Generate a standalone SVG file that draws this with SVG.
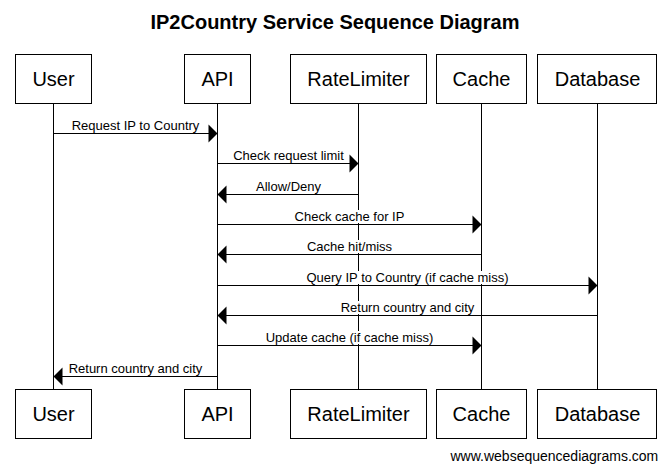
<svg xmlns="http://www.w3.org/2000/svg" width="671" height="472" viewBox="0 0 671 472">
<style>
.box{fill:#fff;stroke:#000;stroke-width:1}
.life{stroke:#000;stroke-width:1}
.msg{stroke:#000;stroke-width:1;fill:none}
.head{fill:#000}
.bg{fill:#fff}
.nl{font-family:"Liberation Sans",Arial,sans-serif;font-size:20px;text-anchor:middle;fill:#000}
.ml{font-family:"Liberation Sans",Arial,sans-serif;font-size:13px;text-anchor:middle;fill:#000}
.title{font-family:"Liberation Sans",Arial,sans-serif;font-size:20px;font-weight:bold;text-anchor:middle;fill:#000}
.foot{font-family:"Liberation Sans",Arial,sans-serif;font-size:14px;fill:#000}
</style>
<rect width="671" height="472" fill="#fff"/>
<text class="title" x="335" y="29">IP2Country Service Sequence Diagram</text>
<g id="lifelines">
<line class="life" x1="53.5" y1="103" x2="53.5" y2="389"/>
<line class="life" x1="217.5" y1="103" x2="217.5" y2="389"/>
<line class="life" x1="358.5" y1="103" x2="358.5" y2="389"/>
<line class="life" x1="481.5" y1="103" x2="481.5" y2="389"/>
<line class="life" x1="597.5" y1="103" x2="597.5" y2="389"/>
</g>
<g id="node-user">
<rect class="box" x="15.5" y="54.5" width="76" height="49"/>
<text class="nl" x="53.5" y="86">User</text>
<rect class="box" x="15.5" y="389.5" width="76" height="49"/>
<text class="nl" x="53.5" y="421">User</text>
</g>
<g id="node-api">
<rect class="box" x="184.5" y="54.5" width="66" height="49"/>
<text class="nl" x="217.5" y="86">API</text>
<rect class="box" x="184.5" y="389.5" width="66" height="49"/>
<text class="nl" x="217.5" y="421">API</text>
</g>
<g id="node-ratelimiter">
<rect class="box" x="290.5" y="54.5" width="136" height="49"/>
<text class="nl" x="358.5" y="86">RateLimiter</text>
<rect class="box" x="290.5" y="389.5" width="136" height="49"/>
<text class="nl" x="358.5" y="421">RateLimiter</text>
</g>
<g id="node-cache">
<rect class="box" x="436.5" y="54.5" width="90" height="49"/>
<text class="nl" x="481.5" y="86">Cache</text>
<rect class="box" x="436.5" y="389.5" width="90" height="49"/>
<text class="nl" x="481.5" y="421">Cache</text>
</g>
<g id="node-database">
<rect class="box" x="537.5" y="54.5" width="119" height="49"/>
<text class="nl" x="597.5" y="86">Database</text>
<rect class="box" x="537.5" y="389.5" width="119" height="49"/>
<text class="nl" x="597.5" y="421">Database</text>
</g>
<g id="connectors">
<line class="msg" x1="53.5" y1="133.5" x2="209" y2="133.5"/>
<polygon class="head" points="217.5,133.5 208.5,124.5 208.5,142.5"/>
<rect class="bg" x="69" y="119" width="132" height="13"/>
<text class="ml" x="135.5" y="130">Request IP to Country</text>

<line class="msg" x1="217.5" y1="163.5" x2="350" y2="163.5"/>
<polygon class="head" points="358.5,163.5 349.5,154.5 349.5,172.5"/>
<rect class="bg" x="231" y="149" width="115" height="13"/>
<text class="ml" x="288.5" y="160">Check request limit</text>

<line class="msg" x1="226" y1="194.5" x2="358.5" y2="194.5"/>
<polygon class="head" points="217.5,194.5 226.5,185.5 226.5,203.5"/>
<rect class="bg" x="254" y="180" width="69" height="13"/>
<text class="ml" x="288.5" y="191">Allow/Deny</text>

<line class="msg" x1="217.5" y1="224.5" x2="473" y2="224.5"/>
<polygon class="head" points="481.5,224.5 472.5,215.5 472.5,233.5"/>
<rect class="bg" x="292" y="210" width="114" height="13"/>
<text class="ml" x="349.5" y="221">Check cache for IP</text>

<line class="msg" x1="226" y1="254.5" x2="481.5" y2="254.5"/>
<polygon class="head" points="217.5,254.5 226.5,245.5 226.5,263.5"/>
<rect class="bg" x="305" y="240" width="89" height="13"/>
<text class="ml" x="349.5" y="251">Cache hit/miss</text>

<line class="msg" x1="217.5" y1="285.5" x2="589" y2="285.5"/>
<polygon class="head" points="597.5,285.5 588.5,276.5 588.5,294.5"/>
<rect class="bg" x="303" y="271" width="210" height="13"/>
<text class="ml" x="407.5" y="282">Query IP to Country (if cache miss)</text>

<line class="msg" x1="226" y1="315.5" x2="597.5" y2="315.5"/>
<polygon class="head" points="217.5,315.5 226.5,306.5 226.5,324.5"/>
<rect class="bg" x="338" y="301" width="139" height="13"/>
<text class="ml" x="407.5" y="312">Return country and city</text>

<line class="msg" x1="217.5" y1="345.5" x2="473" y2="345.5"/>
<polygon class="head" points="481.5,345.5 472.5,336.5 472.5,354.5"/>
<rect class="bg" x="263" y="331" width="174" height="13"/>
<text class="ml" x="349.5" y="342">Update cache (if cache miss)</text>

<line class="msg" x1="62" y1="376.5" x2="217.5" y2="376.5"/>
<polygon class="head" points="53.5,376.5 62.5,367.5 62.5,385.5"/>
<rect class="bg" x="67" y="362" width="137" height="13"/>
<text class="ml" x="135.5" y="373">Return country and city</text>
</g>
<text class="foot" x="450.5" y="461">www.websequencediagrams.com</text>
</svg>
